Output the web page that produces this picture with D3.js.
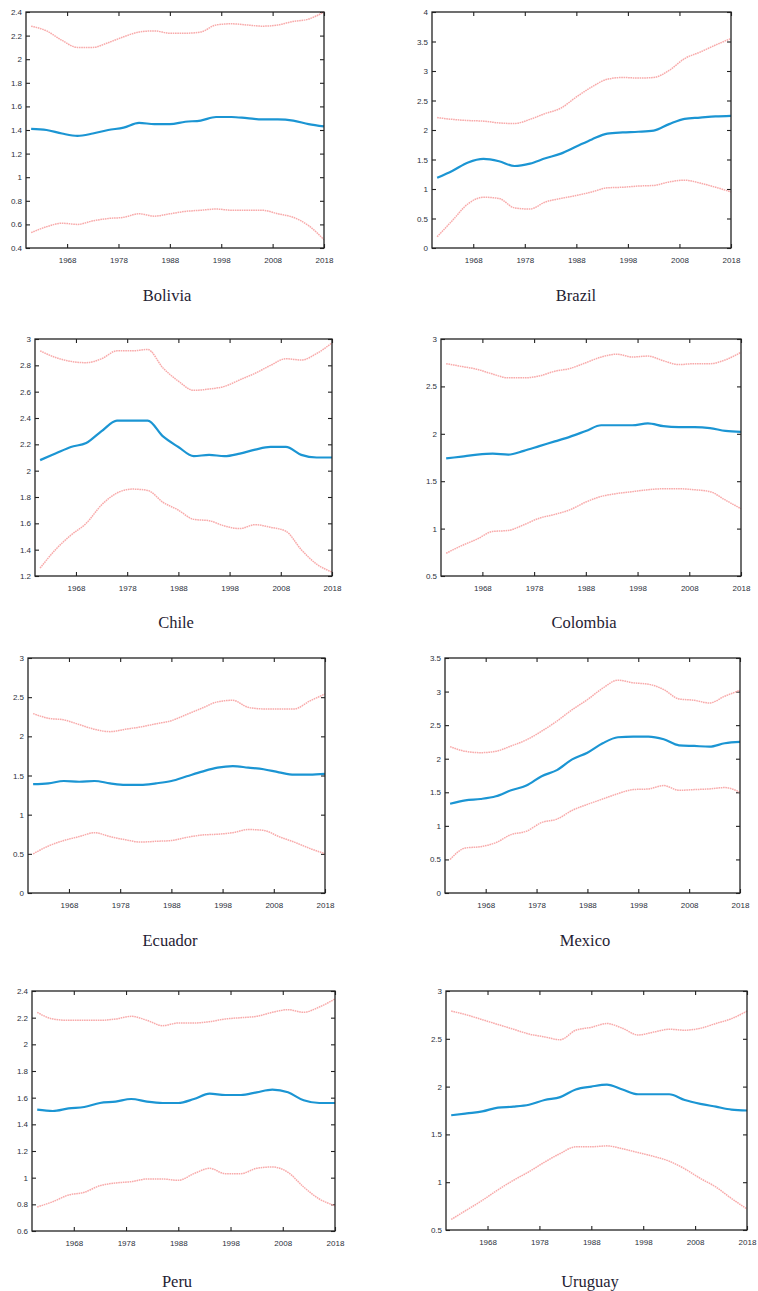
<!DOCTYPE html>
<html>
<head>
<meta charset="utf-8">
<script src="https://cdn.jsdelivr.net/npm/d3@7"></script>
<style>
body { margin: 0; background: #fff; }
</style>
</head>
<body>
<div id="viz"></div>
<script>
// years, same for every country
const years = [1961,1964,1967,1970,1973,1976,1979,1982,1985,1988,1991,1994,1997,2000,2003,2006,2009,2012,2015,2018];
const xTicks = [1968,1978,1988,1998,2008,2018];

// mid = blue line, up/lo = red dotted bands
const boliviaMid = [1.41,1.40,1.37,1.35,1.37,1.40,1.42,1.46,1.45,1.45,1.47,1.48,1.51,1.51,1.50,1.49,1.49,1.48,1.45,1.43];
const boliviaUp  = [2.28,2.24,2.16,2.10,2.10,2.14,2.19,2.23,2.24,2.22,2.22,2.23,2.29,2.30,2.29,2.28,2.29,2.32,2.34,2.40];
const boliviaLo  = [0.53,0.58,0.61,0.60,0.63,0.65,0.66,0.69,0.67,0.69,0.71,0.72,0.73,0.72,0.72,0.72,0.69,0.66,0.59,0.47];
const boliviaTicks = [0.4,0.6,0.8,1,1.2,1.4,1.6,1.8,2,2.2,2.4];

const brazilMid = [1.19,1.31,1.45,1.51,1.47,1.39,1.43,1.52,1.60,1.72,1.84,1.94,1.96,1.97,1.99,2.10,2.19,2.21,2.23,2.24];
const brazilUp  = [2.21,2.18,2.16,2.15,2.12,2.11,2.18,2.28,2.37,2.56,2.73,2.86,2.89,2.88,2.89,3.01,3.21,3.32,3.44,3.55];
const brazilLo  = [0.19,0.47,0.75,0.86,0.84,0.68,0.66,0.78,0.84,0.89,0.95,1.02,1.03,1.05,1.06,1.12,1.15,1.10,1.03,0.95];
const brazilTicks = [0,0.5,1,1.5,2,2.5,3,3.5,4];

const chileMid = [2.08,2.13,2.18,2.21,2.30,2.38,2.38,2.38,2.26,2.18,2.11,2.12,2.11,2.13,2.16,2.18,2.18,2.12,2.10,2.10];
const chileUp  = [2.91,2.86,2.83,2.82,2.85,2.91,2.91,2.92,2.78,2.68,2.61,2.62,2.64,2.69,2.74,2.80,2.85,2.84,2.89,2.97];
const chileLo  = [1.26,1.40,1.51,1.60,1.74,1.83,1.86,1.85,1.76,1.70,1.63,1.62,1.58,1.56,1.59,1.57,1.54,1.40,1.29,1.23];
const chileTicks = [1.2,1.4,1.6,1.8,2,2.2,2.4,2.6,2.8,3];

const colombiaMid = [1.74,1.76,1.78,1.79,1.78,1.82,1.87,1.92,1.97,2.03,2.09,2.09,2.09,2.11,2.08,2.07,2.07,2.06,2.03,2.02];
const colombiaUp  = [2.74,2.71,2.68,2.63,2.59,2.59,2.61,2.66,2.69,2.75,2.81,2.84,2.81,2.82,2.77,2.73,2.74,2.74,2.78,2.86];
const colombiaLo  = [0.74,0.82,0.89,0.97,0.98,1.04,1.11,1.15,1.20,1.28,1.34,1.37,1.39,1.41,1.42,1.42,1.41,1.39,1.30,1.21];
const colombiaTicks = [0.5,1,1.5,2,2.5,3];

const ecuadorMid = [1.39,1.40,1.43,1.42,1.43,1.40,1.38,1.38,1.40,1.43,1.49,1.55,1.60,1.62,1.60,1.58,1.54,1.51,1.51,1.52];
const ecuadorUp  = [2.29,2.23,2.21,2.15,2.09,2.06,2.09,2.12,2.16,2.20,2.28,2.36,2.44,2.46,2.37,2.35,2.35,2.35,2.45,2.54];
const ecuadorLo  = [0.50,0.60,0.67,0.72,0.77,0.72,0.68,0.65,0.66,0.67,0.71,0.74,0.75,0.77,0.81,0.80,0.72,0.65,0.57,0.50];
const ecuadorTicks = [0,0.5,1,1.5,2,2.5,3];

const mexicoMid = [1.33,1.38,1.40,1.44,1.53,1.60,1.74,1.83,1.99,2.09,2.23,2.32,2.33,2.33,2.29,2.20,2.19,2.18,2.23,2.25];
const mexicoUp  = [2.18,2.11,2.09,2.11,2.19,2.28,2.41,2.56,2.73,2.88,3.05,3.17,3.13,3.11,3.03,2.89,2.87,2.83,2.93,3.02];
const mexicoLo  = [0.50,0.67,0.69,0.75,0.87,0.92,1.05,1.10,1.23,1.32,1.40,1.48,1.54,1.55,1.60,1.53,1.54,1.55,1.57,1.50];
const mexicoTicks = [0,0.5,1,1.5,2,2.5,3,3.5];

const peruMid = [1.51,1.50,1.52,1.53,1.56,1.57,1.59,1.57,1.56,1.56,1.59,1.63,1.62,1.62,1.64,1.66,1.64,1.58,1.56,1.56];
const peruUp  = [2.24,2.19,2.18,2.18,2.18,2.19,2.21,2.18,2.14,2.16,2.16,2.17,2.19,2.20,2.21,2.24,2.26,2.24,2.28,2.34];
const peruLo  = [0.78,0.82,0.87,0.89,0.94,0.96,0.97,0.99,0.99,0.98,1.03,1.07,1.03,1.03,1.07,1.08,1.04,0.93,0.84,0.79];
const peruTicks = [0.6,0.8,1,1.2,1.4,1.6,1.8,2,2.2,2.4];

const uruguayMid = [1.70,1.72,1.74,1.78,1.79,1.81,1.86,1.89,1.97,2.00,2.02,1.97,1.92,1.92,1.92,1.86,1.82,1.79,1.76,1.75];
const uruguayUp  = [2.79,2.75,2.70,2.65,2.60,2.55,2.52,2.49,2.59,2.62,2.66,2.61,2.54,2.57,2.60,2.59,2.61,2.66,2.71,2.79];
const uruguayLo  = [0.61,0.71,0.81,0.92,1.02,1.11,1.21,1.30,1.37,1.37,1.38,1.35,1.31,1.27,1.22,1.14,1.04,0.95,0.83,0.72];
const uruguayTicks = [0.5,1,1.5,2,2.5,3];

// where each small plot sits on the page
const panels = [
  {name: "Bolivia",  mid: boliviaMid,  up: boliviaUp,  lo: boliviaLo,  ticks: boliviaTicks,  left: 26,  top: 12,  right: 324, bottom: 248,  tx: 167, ty: 301},
  {name: "Brazil",   mid: brazilMid,   up: brazilUp,   lo: brazilLo,   ticks: brazilTicks,   left: 432, top: 12,  right: 731, bottom: 248,  tx: 576, ty: 301},
  {name: "Chile",    mid: chileMid,    up: chileUp,    lo: chileLo,    ticks: chileTicks,    left: 35,  top: 339, right: 332, bottom: 576,  tx: 176, ty: 628},
  {name: "Colombia", mid: colombiaMid, up: colombiaUp, lo: colombiaLo, ticks: colombiaTicks, left: 441, top: 339, right: 741, bottom: 576,  tx: 584, ty: 628},
  {name: "Ecuador",  mid: ecuadorMid,  up: ecuadorUp,  lo: ecuadorLo,  ticks: ecuadorTicks,  left: 28,  top: 658, right: 325, bottom: 893,  tx: 170, ty: 946},
  {name: "Mexico",   mid: mexicoMid,   up: mexicoUp,   lo: mexicoLo,   ticks: mexicoTicks,   left: 445, top: 658, right: 740, bottom: 893,  tx: 585, ty: 946},
  {name: "Peru",     mid: peruMid,     up: peruUp,     lo: peruLo,     ticks: peruTicks,     left: 32,  top: 991, right: 335, bottom: 1231, tx: 177, ty: 1287},
  {name: "Uruguay",  mid: uruguayMid,  up: uruguayUp,  lo: uruguayLo,  ticks: uruguayTicks,  left: 446, top: 991, right: 747, bottom: 1230, tx: 590, ty: 1287}
];

const svg = d3.select("#viz").append("svg")
  .attr("width", 758)
  .attr("height", 1291);

const fmt = d3.format("~g");

panels.forEach(p => {
  const w = p.right - p.left,
    h = p.bottom - p.top;

  const x = d3.scaleLinear().domain([1960, 2018]).range([0, w]);
  const y = d3.scaleLinear().domain(d3.extent(p.ticks)).range([h, 0]);

  const g = svg.append("g")
    .attr("transform", `translate(${p.left}, ${p.top})`);

  // ticks point inward on all four sides
  g.append("g")
    .attr("transform", `translate(0, ${h})`)
    .call(d3.axisBottom(x).tickValues(xTicks).tickFormat(d3.format("d")).tickSize(-4).tickPadding(9));
  g.append("g")
    .call(d3.axisTop(x).tickValues(xTicks).tickFormat("").tickSize(-4));
  g.append("g")
    .call(d3.axisLeft(y).tickValues(p.ticks).tickFormat(fmt).tickSize(-4).tickPadding(4));
  g.append("g")
    .attr("transform", `translate(${w}, 0)`)
    .call(d3.axisRight(y).tickValues(p.ticks).tickFormat("").tickSize(-4));

  g.selectAll(".domain").remove();
  g.selectAll(".tick line").attr("stroke", "#222").attr("stroke-width", 1.1);
  g.selectAll(".tick text")
    .attr("fill", "#2c313c")
    .style("font-family", "Liberation Sans, Arial, sans-serif")
    .style("font-size", "8px");

  const line = d3.line()
    .x((d, i) => x(years[i]))
    .y(d => y(d))
    .curve(d3.curveMonotoneX);

  // confidence bands
  [p.up, p.lo].forEach(s => {
    g.append("path")
      .datum(s)
      .attr("d", line)
      .attr("fill", "none")
      .attr("stroke", "#f8aaaa")
      .attr("stroke-width", 1.5)
      .attr("stroke-dasharray", "1.6,0.7");
  });

  g.append("path")
    .datum(p.mid)
    .attr("d", line)
    .attr("fill", "none")
    .attr("stroke", "#1b95d3")
    .attr("stroke-width", 2.2);

  // box
  g.append("rect")
    .attr("width", w)
    .attr("height", h)
    .attr("fill", "none")
    .attr("stroke", "#222")
    .attr("stroke-width", 1.3);

  svg.append("text")
    .text(p.name)
    .attr("x", p.tx)
    .attr("y", p.ty)
    .attr("text-anchor", "middle")
    .attr("fill", "#1f2233")
    .style("font-family", "Liberation Serif, Times New Roman, serif")
    .style("font-size", "16.5px");
});
</script>
</body>
</html>
